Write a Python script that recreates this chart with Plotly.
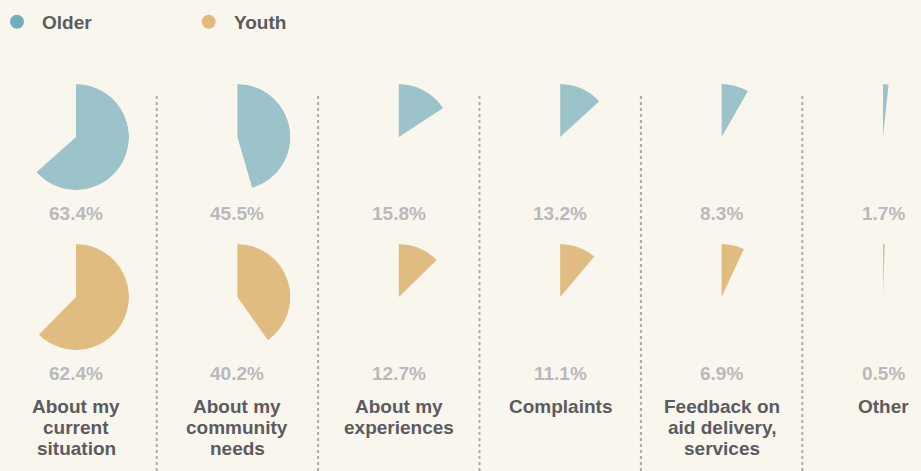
import plotly.graph_objects as go

categories = ["About my<br>current<br>situation", "About my<br>community<br>needs",
              "About my<br>experiences", "Complaints",
              "Feedback on<br>aid delivery,<br>services", "Other"]
older = [63.4, 45.5, 15.8, 13.2, 8.3, 1.7]
youth = [62.4, 40.2, 12.7, 11.1, 6.9, 0.5]
series_names = ["Older", "Youth"]

W, H = 921, 471
BG = "#f9f6ee"
PIE_COL = {"Older": "#9cc3ca", "Youth": "#e0bc80"}
DOT_COL = {"Older": "#6fb0bd", "Youth": "#e0ba7d"}
TXT = "#5b5b60"
PCT = "#b9b9bb"
FONT = "Liberation Sans, Arial, sans-serif"

col_x0, col_step = 76, 161.4
row_cy = {"Older": 137, "Youth": 297}
pct_y = {"Older": 213.5, "Youth": 373.5}
r = 53

fig = go.Figure()
annotations = []
polars = {}
k = 0
for name, vals in zip(series_names, [older, youth]):
    for i, v in enumerate(vals):
        k += 1
        key = "polar" if k == 1 else f"polar{k}"
        cx = col_x0 + i * col_step
        cy = row_cy[name]
        last = i == len(vals) - 1
        # last column sits at the right edge: show only the upper-right part of the disc
        if last:
            sector = [60, 90]
            dx = [cx, cx + r * 0.5]
            dy = [H - cy, H - cy + r]
        else:
            sector = [0, 360]
            dx = [cx - r, cx + r]
            dy = [H - cy - r, H - cy + r]
        polars[key] = dict(
            domain=dict(x=[dx[0] / W, dx[1] / W], y=[dy[0] / H, dy[1] / H]),
            sector=sector, bgcolor="rgba(0,0,0,0)", hole=0,
            radialaxis=dict(visible=False, range=[0, 1]),
            angularaxis=dict(visible=False, direction="clockwise", rotation=90),
        )
        fig.add_trace(go.Barpolar(
            r=[1], theta=[v * 3.6 / 2], width=[v * 3.6],
            marker=dict(color=PIE_COL[name], line=dict(width=0)),
            subplot=key, showlegend=False, name=name,
            hovertemplate=f"{name}: {v}%<extra></extra>",
        ))
        annotations.append(dict(
            x=cx / W, y=1 - pct_y[name] / H, xref="paper", yref="paper",
            text=f"{v}%", showarrow=False, xanchor="center", yanchor="middle",
            font=dict(family=FONT, size=19, color=PCT, weight="bold")))

# category labels, one annotation per line for tight line spacing
for i, c in enumerate(categories):
    cx = col_x0 + i * col_step
    for j, line in enumerate(c.split("<br>")):
        annotations.append(dict(
            x=cx / W, y=1 - (406.5 + 21 * j) / H, xref="paper", yref="paper",
            text=line, showarrow=False, xanchor="center", yanchor="middle",
            font=dict(family=FONT, size=19, color=TXT, weight="bold")))

# legend
shapes = []
for name, dot_x, txt_x in zip(series_names, [17, 208.7], [40, 232]):
    shapes.append(dict(type="circle", xref="paper", yref="paper",
                       x0=(dot_x - 7) / W, x1=(dot_x + 7) / W,
                       y0=1 - (21.7 + 7) / H, y1=1 - (21.7 - 7) / H,
                       fillcolor=DOT_COL[name], line=dict(width=0)))
    annotations.append(dict(
        x=txt_x / W, y=1 - 22.5 / H, xref="paper", yref="paper",
        text=name, showarrow=False, xanchor="left", yanchor="middle",
        font=dict(family=FONT, size=19, color=TXT, weight="bold")))

for i in range(5):
    sx = col_x0 + (i + 0.5) * col_step
    shapes.append(dict(type="line", xref="paper", yref="paper",
                       x0=sx / W, x1=sx / W, y0=0, y1=1 - 95 / H,
                       line=dict(color="#ababab", width=2, dash="dot")))

fig.update_layout(
    width=W, height=H,
    paper_bgcolor=BG, plot_bgcolor=BG,
    margin=dict(l=0, r=0, t=0, b=0),
    annotations=annotations, shapes=shapes,
    showlegend=False,
    **polars,
)

fig.write_html("out.html", config={"displayModeBar": False},
               post_script="document.body.style.margin='0';")
